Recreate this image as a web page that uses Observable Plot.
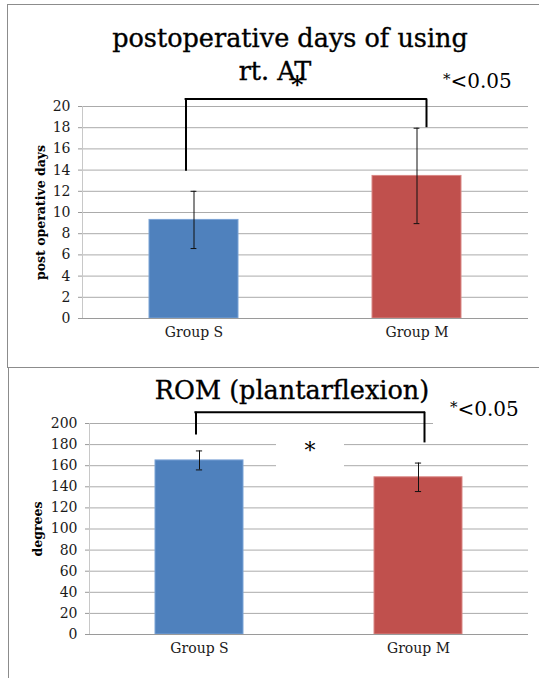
<!DOCTYPE html>
<html><head><meta charset="utf-8">
<script src="https://cdn.jsdelivr.net/npm/d3@7"></script>
<script src="https://cdn.jsdelivr.net/npm/@observablehq/plot@0.6"></script>
<style>
body{margin:0;background:#fff;}
#page{position:relative;width:539px;height:678px;overflow:hidden;font-family:'DejaVu Serif','Liberation Serif',serif;color:#000;}
.abs{position:absolute;white-space:nowrap;line-height:1;font-family:'DejaVu Serif','Liberation Serif',serif;}
.ttl{-webkit-text-stroke:0.35px #000;}
.plot{position:absolute;left:0;}
.border{position:absolute;box-sizing:border-box;pointer-events:none;}
.sig .st{font-size:0.75em;vertical-align:0.25em;}
</style></head><body><div id="page"></div>
<script>
// ---- data ----
const groups = ["Group S", "Group M"];
const colors = ["#4f81bd", "#c0504d"];
const edgeColors = ["#7ba3d6", "#d98785"];
const daysMean = [9.3, 13.45];
const daysSD = [2.7, 4.5];
const romMean = [165, 149];
const romSD = [9, 13.5];
const daysTicks = [0, 2, 4, 6, 8, 10, 12, 14, 16, 18, 20];
const romTicks = [0, 20, 40, 60, 80, 100, 120, 140, 160, 180, 200];
// bracket (significance) levels: [left leg bottom, top bar, right leg bottom]
const daysBracket = [13.9, 20.7, 18.0];
const romBracket = [189, 210.6, 181.6];

const page = document.getElementById("page");
const W = 539;
const FONT = "DejaVu Serif, Liberation Serif, serif";

function panel({means, sds, ticks, bracket, label, labelDx, top, height, ml, mt, mb, legDx}) {
  const mr = 11;
  const data = groups.map((g, i) => ({group: g, mean: means[i], sd: sds[i], color: colors[i], edge: edgeColors[i]}));
  const plotW = W - ml - mr;
  const step = plotW / 2;
  const bw = step * 0.4;
  const capInset = (bw - 6) / 2;
  const legs = [
    {group: groups[0], y1: bracket[0], y2: bracket[1]},
    {group: groups[1], y1: bracket[2], y2: bracket[1]}
  ];
  const chart = Plot.plot({
    width: W, height,
    marginLeft: ml, marginRight: mr, marginTop: mt, marginBottom: mb,
    style: {fontFamily: FONT, fontSize: "14px", background: "transparent", overflow: "visible", color: "#000"},
    x: {type: "band", domain: groups, paddingInner: 0.6, paddingOuter: 0.3, axis: null},
    y: {domain: [ticks[0], ticks[ticks.length - 1]], axis: null},
    color: {type: "identity"},
    marks: [
      Plot.ruleY(ticks, {stroke: "#ababab", strokeWidth: 1}),
      Plot.frame({anchor: "left", stroke: "#c8c8c8"}),
      Plot.axisY({ticks, tickSize: 4, tickPadding: 8, stroke: "#9a9a9a", fill: "#1a1a1a", fontSize: 14, label: null, tickFormat: d => d}),
      Plot.axisX({tickSize: 0, tickPadding: 9, fill: "#1a1a1a", fontSize: 14, label: null}),
      Plot.text([label], {frameAnchor: "left", textAnchor: "middle", lineAnchor: "middle", dx: labelDx, rotate: -90, fontWeight: "bold", fontSize: 12.5, fill: "#000"}),
      Plot.barY(data, {x: "group", y: "mean", fill: "color", stroke: "edge", strokeWidth: 1}),
      Plot.ruleY([0], {stroke: "#9a9a9a"}),
      Plot.ruleX(data, {x: "group", y1: d => d.mean - d.sd, y2: d => d.mean + d.sd, stroke: "#111", strokeWidth: 1}),
      Plot.tickY(data, {x: "group", y: d => d.mean - d.sd, inset: capInset, stroke: "#111", strokeWidth: 1}),
      Plot.tickY(data, {x: "group", y: d => d.mean + d.sd, inset: capInset, stroke: "#111", strokeWidth: 1}),
      Plot.ruleX([legs[0]], {x: "group", y1: "y1", y2: "y2", dx: legDx[0], stroke: "#000", strokeWidth: 2}),
      Plot.ruleX([legs[1]], {x: "group", y1: "y1", y2: "y2", dx: legDx[1], stroke: "#000", strokeWidth: 2}),
      Plot.ruleY([{a: groups[0], b: groups[1], y: bracket[1]}], {x1: "a", x2: "b", y: "y", insetLeft: bw / 2 + legDx[0] - 1, insetRight: bw / 2 - legDx[1] - 1, stroke: "#000", strokeWidth: 2})
    ]
  });
  chart.classList.add("plot");
  chart.style.top = top + "px";
  chart.style.position = "absolute";
  page.appendChild(chart);
}

panel({means: daysMean, sds: daysSD, ticks: daysTicks, bracket: daysBracket, label: "post operative days", labelDx: -42,
  top: 0, height: 367, ml: 82, mt: 106, mb: 49, legDx: [-8, 9.5]});
panel({means: romMean, sds: romSD, ticks: romTicks, bracket: romBracket, label: "degrees", labelDx: -52,
  top: 367, height: 311, ml: 89, mt: 56, mb: 44, legDx: [-3.5, 6]});

function txt(html, css, cls) {
  const d = document.createElement("div");
  d.className = "abs " + (cls || "");
  d.innerHTML = html;
  Object.assign(d.style, css);
  page.appendChild(d);
  return d;
}
// titles
txt("postoperative days of using", {left: "40px", width: "500px", textAlign: "center", top: "26px", fontSize: "25.5px"}, "ttl");
txt("rt. AT", {left: "175px", width: "200px", textAlign: "center", top: "59px", fontSize: "25.5px"}, "ttl");
txt("*", {left: "291px", top: "73px", fontSize: "24px", fontWeight: "bold"});
txt("<span class='st'>*</span>&lt;0.05", {left: "443px", top: "71px", fontSize: "20px"}, "sig");
txt("ROM (plantarflexion)", {left: "42px", width: "500px", textAlign: "center", top: "378px", fontSize: "25.5px"}, "ttl");
txt("*", {left: "276px", width: "68px", height: "28px", textAlign: "center", top: "438px", fontSize: "22px", background: "#fff", paddingTop: "2px"});
txt("<span class='st'>*</span>&lt;0.05", {left: "433px", width: "110px", paddingLeft: "17px", boxSizing: "border-box", top: "399px", height: "27px", fontSize: "20px", background: "#fff"}, "sig");

// panel borders
const b1 = document.createElement("div");
b1.className = "border";
Object.assign(b1.style, {left: "7px", top: "4px", width: "600px", height: "364px", borderLeft: "1.5px solid #8c8c8c", borderTop: "1.5px solid #8c8c8c", borderBottom: "1.5px solid #8c8c8c"});
page.appendChild(b1);
const b2 = document.createElement("div");
b2.className = "border";
Object.assign(b2.style, {left: "7.5px", top: "367px", width: "600px", height: "400px", borderLeft: "1.5px solid #8c8c8c"});
page.appendChild(b2);
</script></body></html>
